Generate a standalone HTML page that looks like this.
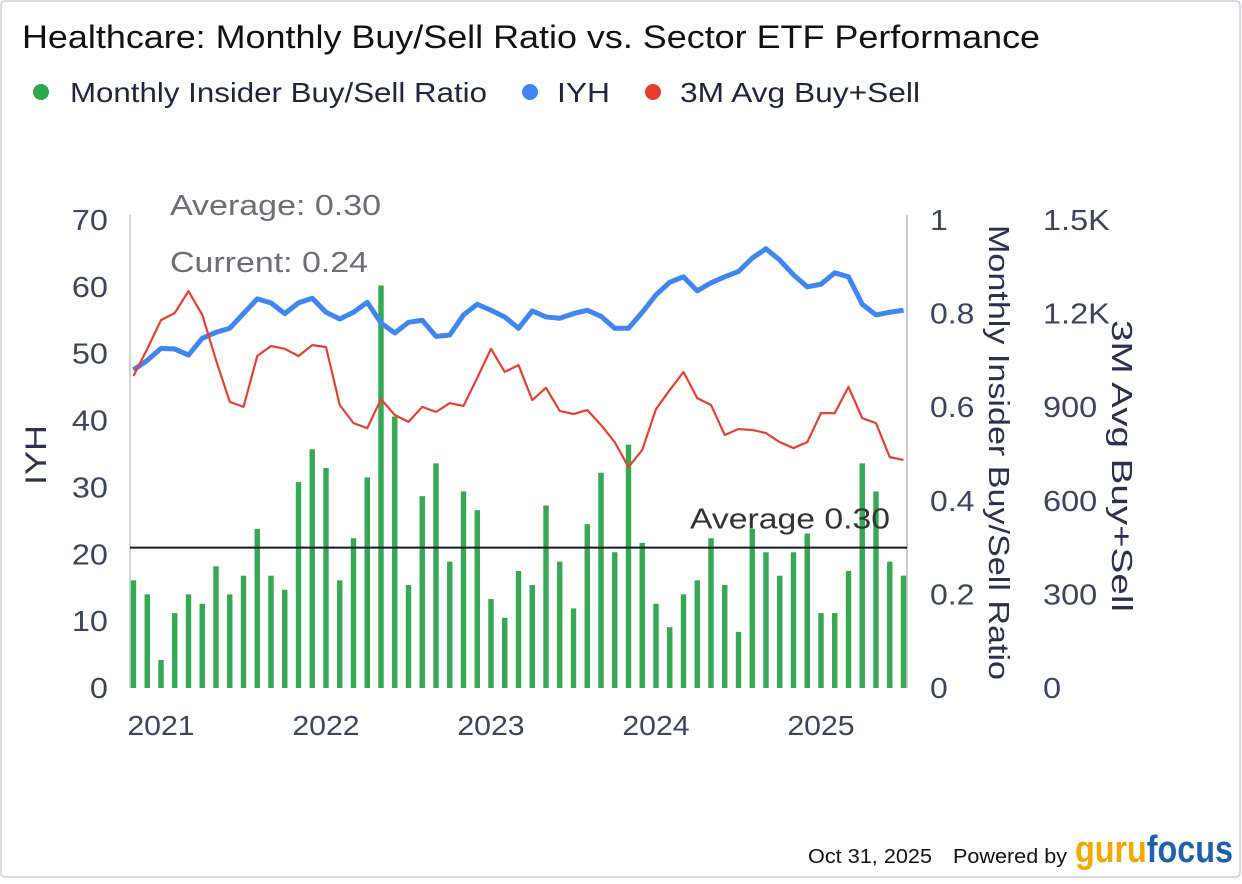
<!DOCTYPE html>
<html><head><meta charset="utf-8"><style>
html,body{margin:0;padding:0;background:#fff;}
body{width:1242px;height:879px;overflow:hidden;font-family:"Liberation Sans",Arial,sans-serif;}
svg text{font-family:"Liberation Sans",Arial,sans-serif;}
</style></head><body>
<svg id="chart" width="1242" height="879" viewBox="0 0 1242 879" xmlns="http://www.w3.org/2000/svg">
<rect x="1" y="1" width="1239" height="876" rx="4" fill="#fff" stroke="#ccd0d8" stroke-width="1.5"/>
<text x="22" y="48" font-size="32" fill="#111" textLength="1018" lengthAdjust="spacingAndGlyphs">Healthcare: Monthly Buy/Sell Ratio vs. Sector ETF Performance</text>
<g>
<g><circle cx="41" cy="92" r="8" fill="#2ca84a"/><text x="70" y="102" font-size="28" fill="#1e2540" textLength="417" lengthAdjust="spacingAndGlyphs">Monthly Insider Buy/Sell Ratio</text></g>
<g><circle cx="530" cy="92" r="8" fill="#3f86f0"/><text x="557" y="102" font-size="28" fill="#1e2540" textLength="53" lengthAdjust="spacingAndGlyphs">IYH</text></g>
<g><circle cx="653" cy="92" r="8" fill="#e8402f"/><text x="680" y="102" font-size="28" fill="#1e2540" textLength="240" lengthAdjust="spacingAndGlyphs">3M Avg Buy+Sell</text></g>
</g>
<g id="plot"></g>
<text x="808" y="863" font-size="20" fill="#111" textLength="124" lengthAdjust="spacingAndGlyphs">Oct 31, 2025</text>
<text x="953" y="863" font-size="20" fill="#111" textLength="114" lengthAdjust="spacingAndGlyphs">Powered by</text>
<text x="1075" y="862" font-size="38" font-weight="bold" fill="#f5a800" textLength="158" lengthAdjust="spacingAndGlyphs">guru<tspan fill="#1f5fb0">focus</tspan></text>
</svg>
<script>
const months = [];
for (let i = 0; i < 57; i++) { months.push(i); } // Nov 2020 .. Jul 2025 month index
const ratioValues = [0.23,0.20,0.06,0.16,0.20,0.18,0.26,0.20,0.24,0.34,0.24,0.21,0.44,0.51,0.47,0.23,0.32,0.45,0.86,0.58,0.22,0.41,0.48,0.27,0.42,0.38,0.19,0.15,0.25,0.22,0.39,0.27,0.17,0.35,0.46,0.29,0.52,0.31,0.18,0.13,0.20,0.23,0.32,0.22,0.12,0.34,0.29,0.24,0.29,0.33,0.16,0.16,0.25,0.48,0.42,0.27,0.24];
const iyhValues = [47.6,49,50.8,50.7,49.8,52.3,53.2,53.8,56,58.2,57.6,56,57.6,58.3,56.2,55.2,56.2,57.7,54.6,53.1,54.7,55,52.6,52.8,55.8,57.4,56.5,55.5,53.8,56.4,55.5,55.3,56,56.5,55.6,53.8,53.8,56.2,58.8,60.7,61.5,59.4,60.6,61.5,62.3,64.3,65.7,64,61.8,60,60.4,62.1,61.5,57.4,55.8,56.2,56.5];
const avgValues = [1000,1087,1179,1202,1272,1196,1051,917,901,1064,1096,1087,1064,1099,1093,907,849,833,926,875,853,901,885,913,904,994,1087,1013,1035,923,962,888,878,891,843,788,708,763,894,955,1013,929,907,811,830,827,817,788,769,788,881,881,965,865,849,740,731];
const iyhTicks = [0,10,20,30,40,50,60,70];
const ratioTicks = [0,0.2,0.4,0.6,0.8,1];
const ratioTickLabels = ["0","0.2","0.4","0.6","0.8","1"];
const avgTicks = [0,300,600,900,1200,1500];
const avgTickLabels = ["0","300","600","900","1.2K","1.5K"];
const yearLabels = ["2021","2022","2023","2024","2025"];
const yearMonthIdx = [2,14,26,38,50];
const ratioAverage = 0.30;
const ratioCurrent = 0.24;

const X0 = 133.5, DX = 13.75, YB = 688, YT = 220;
const xs = i => X0 + i * DX;
const yIYH = v => YB - v / 70 * (YB - YT);
const yRatio = v => YB - v / 1 * (YB - YT);
const yAvg = v => YB - v / 1500 * (YB - YT);

const NS = "http://www.w3.org/2000/svg";
const plot = document.getElementById('plot');
function mk(tag, attrs, parent) {
  const e = document.createElementNS(NS, tag);
  for (const k in attrs) e.setAttribute(k, attrs[k]);
  (parent || plot).appendChild(e);
  return e;
}
function widen(t, f) {
  const w = t.getComputedTextLength();
  if (w > 0) { t.setAttribute('textLength', (w * f).toFixed(1)); t.setAttribute('lengthAdjust', 'spacingAndGlyphs'); }
}
let e;
e = mk('line', {x1:130, y1:YT-5, x2:130, y2:YB, stroke:'#d0d4dc', 'stroke-width':2});


e = mk('line', {x1:907, y1:YT-5, x2:907, y2:YB, stroke:'#c8ccd4', 'stroke-width':2});



iyhTicks.forEach(t => {
  const tx = mk('text', {x:108, y:yIYH(t)+10, 'font-size':29, fill:'#3c4460', 'text-anchor':'end'});
  tx.textContent = t;
  
  
  widen(tx, 1.12);
});
ratioTicks.forEach((t, i) => {
  const tx = mk('text', {x:930, y:yRatio(t)+10, 'font-size':29, fill:'#3c4460'});
  tx.textContent = ratioTickLabels[i];
  
  
  widen(tx, 1.1);
});
avgTicks.forEach((t, i) => {
  const tx = mk('text', {x:1043, y:yAvg(t)+10, 'font-size':29, fill:'#3c4460'});
  tx.textContent = avgTickLabels[i];
  
  
  widen(tx, 1.12);
});
yearLabels.forEach((y, i) => {
  const tx = mk('text', {x:xs(yearMonthIdx[i]), y:735, 'font-size':28, fill:'#3c4460', 'text-anchor':'middle'});
  tx.textContent = y;
  
  
  widen(tx, 1.08);
});
e = mk('text', {x:0, y:0, 'font-size':30, fill:'#2a3150', 'text-anchor':'middle', textLength:60, lengthAdjust:'spacingAndGlyphs', transform:'translate(46,455) rotate(-90)'});
e.textContent = 'IYH';


e = mk('text', {x:0, y:0, 'font-size':29, fill:'#2a3150', textLength:455, lengthAdjust:'spacingAndGlyphs', transform:'translate(989,225) rotate(90)'});
e.textContent = 'Monthly Insider Buy/Sell Ratio';


e = mk('text', {x:0, y:0, 'font-size':29, fill:'#2a3150', textLength:292, lengthAdjust:'spacingAndGlyphs', transform:'translate(1112,320) rotate(90)'});
e.textContent = '3M Avg Buy+Sell';



ratioValues.forEach((v, i) => {
  const b = mk('rect', {x:xs(i)-2.7, y:yRatio(v), width:5.4, height:YB - yRatio(v), fill:'#34a853'});
  
  
});
e = mk('line', {x1:130, x2:907, y1:yRatio(ratioAverage), y2:yRatio(ratioAverage), stroke:'#141a33', 'stroke-width':2});


e = mk('text', {x:690, y:yRatio(ratioAverage)-19, 'font-size':29, fill:'#333', textLength:200, lengthAdjust:'spacingAndGlyphs'});
e.textContent = 'Average ' + ratioAverage.toFixed(2);


e = mk('polyline', {points: iyhValues.map((v,i)=>xs(i)+','+yIYH(v)).join(' '), fill:'none', stroke:'#3f86f0', 'stroke-width':5, 'stroke-linejoin':'round'});


e = mk('polyline', {points: avgValues.map((v,i)=>xs(i)+','+yAvg(v)).join(' '), fill:'none', stroke:'#e8402f', 'stroke-width':2.2, 'stroke-linejoin':'round'});


e = mk('text', {x:170, y:215, 'font-size':29, fill:'#6b6e75', textLength:211, lengthAdjust:'spacingAndGlyphs'});
e.textContent = 'Average: ' + ratioAverage.toFixed(2);


e = mk('text', {x:170, y:272, 'font-size':29, fill:'#6b6e75', textLength:198, lengthAdjust:'spacingAndGlyphs'});
e.textContent = 'Current: ' + ratioCurrent.toFixed(2);


</script>
</body></html>
